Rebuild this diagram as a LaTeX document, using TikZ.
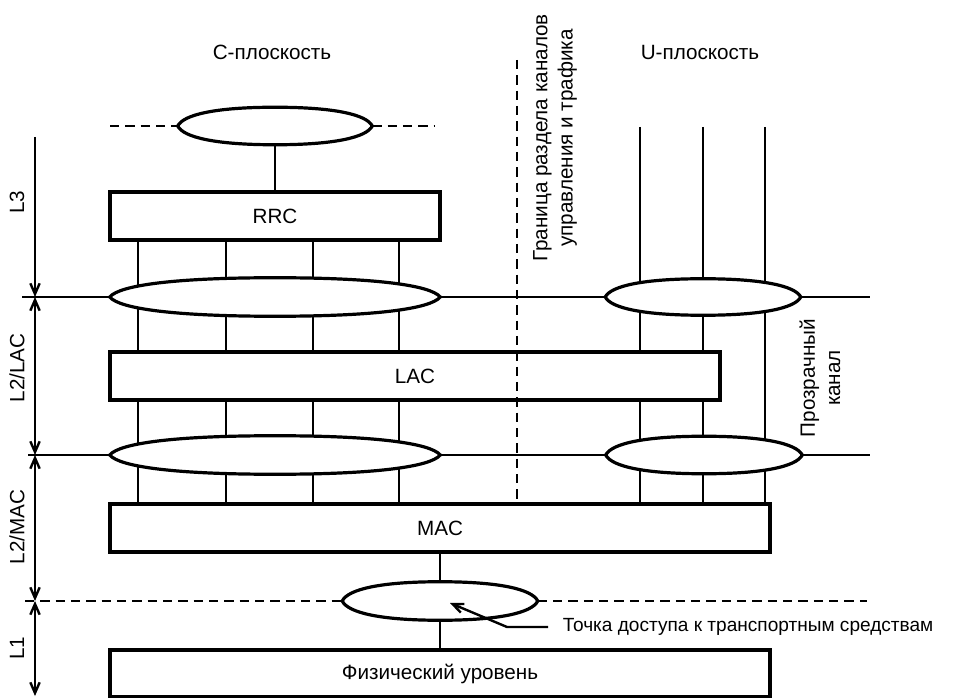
\documentclass[tikz,border=0pt]{standalone}
\usepackage{fontspec}
\setmainfont{Liberation Sans}
\usetikzlibrary{arrows.meta,calc}
\tikzset{
  lbl/.style={font=\fontsize{15.5pt}{19pt}\selectfont, inner sep=1pt},
  box/.style={draw, line width=2.4pt, rectangle, inner sep=0pt, font=\fontsize{15.5pt}{19pt}\selectfont},
  lensbox/.style={rectangle, draw=none, inner sep=0pt},
  lensline/.style={draw, fill=white, line width=2.4pt},
  conn/.style={line width=1.8pt},
  dashln/.style={line width=1.8pt, dash pattern=on 7pt off 4.5pt},
  barb/.style={-{Straight Barb[length=8pt,width=7pt]}},
  dbarb/.style={{Straight Barb[length=8pt,width=7pt]}-{Straight Barb[length=8pt,width=7pt]}}
}
\newcommand\lensshape[1]{%
  \path[lensline] let \p1=(#1.west), \p2=(#1.east), \p3=(#1.north), \p4=(#1.south) in
  (\p1) .. controls ({\x1+0.03*(\x2-\x1)},{\y1+0.62*(\y3-\y1)}) and ({\x1+0.2*(\x2-\x1)},\y3) .. (\p3)
  .. controls ({\x2-0.2*(\x2-\x1)},\y3) and ({\x2-0.03*(\x2-\x1)},{\y1+0.62*(\y3-\y1)}) .. (\p2)
  .. controls ({\x2-0.03*(\x2-\x1)},{\y1+0.62*(\y4-\y1)}) and ({\x2-0.2*(\x2-\x1)},\y4) .. (\p4)
  .. controls ({\x1+0.2*(\x2-\x1)},\y4) and ({\x1+0.03*(\x2-\x1)},{\y1+0.62*(\y4-\y1)}) .. (\p1) -- cycle;}
\begin{document}
\begin{tikzpicture}[x=0.75pt,y=-0.75pt]
\useasboundingbox (0,0) rectangle (953,698);

% titles
\node[lbl] (cpl) at (272,52) {С-плоскость};
\node[lbl] (upl) at (700,52) {U-плоскость};
\node[lbl, rotate=90, align=center] (bnd) at (555,138) {Граница раздела каналов\\управления и трафика};
\node[lbl, rotate=90, align=center] (tc) at (820,378) {Прозрачный\\канал};

% ellipse frames
\node[lensbox, minimum width=145.5pt, minimum height=27.75pt] (e0) at (275,126) {};
\node[lensbox, minimum width=247.5pt, minimum height=28.5pt] (e1) at (275,297) {};
\node[lensbox, minimum width=146.25pt, minimum height=27pt] (e2) at (703,297) {};
\node[lensbox, minimum width=247.5pt, minimum height=28.5pt] (e3) at (275,455) {};
\node[lensbox, minimum width=147pt, minimum height=27.75pt] (e4) at (704,455) {};
\node[lensbox, minimum width=146.25pt, minimum height=28.5pt] (e5) at (440,601) {};

% boxes
\node[box, minimum width=247.5pt, minimum height=36pt] (rrc) at (275,216) {RRC};
\node[box, minimum width=457.5pt, minimum height=36pt] (lac) at (415,376) {LAC};
\node[box, minimum width=495pt, minimum height=36pt] (mac) at (440,528) {MAC};
\node[box, minimum width=495pt, minimum height=35.25pt] (phy) at (440,673.5) {Физический уровень};

% horizontal layer lines
\coordinate (h1l) at (22,297); \coordinate (h1r) at (870,297);
\coordinate (h2l) at (28,455); \coordinate (h2r) at (870,455);
\coordinate (h3l) at (25,601); \coordinate (h3r) at (867,601);
\coordinate (d0l) at (110,126); \coordinate (d0r) at (435,126);
\draw[conn] (h1l) -- (h1r);
\draw[conn] (h2l) -- (h2r);
\draw[dashln] (h3l) -- (e5.west);
\draw[dashln] (e5.east) -- (h3r);
\draw[dashln] (d0l) -- (e0.west);
\draw[dashln] (e0.east) -- (d0r);

% C-plane columns
\foreach \i/\xx in {1/138,2/226,3/313,4/399}{
  \coordinate (c\i) at (\xx,0);
  \draw[conn] (c\i |- rrc.south) -- (c\i |- lac.north);
  \draw[conn] (c\i |- lac.south) -- (c\i |- mac.north);
}
% U-plane columns
\coordinate (u1) at (640,127);
\coordinate (u2) at (703,127);
\coordinate (u3) at (765,127);
\draw[conn] (u1) -- (u1 |- lac.north);
\draw[conn] (u2) -- (u2 |- lac.north);
\draw[conn] (u1 |- lac.south) -- (u1 |- mac.north);
\draw[conn] (u2 |- lac.south) -- (u2 |- mac.north);
\draw[conn] (u3) -- (u3 |- mac.north);

% single links
\draw[conn] (e0.south) -- (rrc.north);
\draw[conn] (mac.south) -- (phy.north);

% ellipses on top
\lensshape{e0}
\lensshape{e1}
\lensshape{e2}
\lensshape{e3}
\lensshape{e4}
\lensshape{e5}

% boundary dashed line
\coordinate (b0) at (517,60);
\draw[dashln] (b0) -- (b0 |- mac.north);

% access point label
\node[font=\fontsize{14.3pt}{17pt}\selectfont, anchor=west, inner xsep=11pt, inner ysep=1pt] (tp) at (548,627) {Точка доступа к транспортным средствам};
\coordinate (tpb) at (507,627);
\coordinate (tpt) at (450,603);
\draw[conn, barb] (tp.west) -- (tpb) -- (tpt);

% left axis
\coordinate (a0) at (35,137);
\coordinate (a1) at (35,297);
\coordinate (a2) at (35,455);
\coordinate (a3) at (35,601);
\coordinate (a4) at (35,696);
\draw[conn, barb] (a0) -- (a1);
\draw[conn, dbarb] (a1) -- (a2);
\draw[conn, dbarb] (a2) -- (a3);
\draw[conn, dbarb] (a3) -- (a4);
\node[lbl, rotate=90] (l3) at (17,202) {L3};
\node[lbl, rotate=90] (llac) at (17,368) {L2/LAC};
\node[lbl, rotate=90] (lmac) at (17,527) {L2/MAC};
\node[lbl, rotate=90] (l1) at (17,648) {L1};
\end{tikzpicture}
\end{document}
